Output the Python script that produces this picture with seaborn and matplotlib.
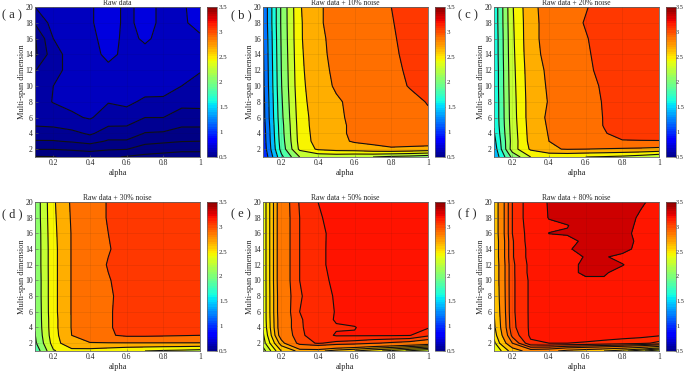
import matplotlib
matplotlib.use('Agg')
import matplotlib.pyplot as plt
import seaborn as sns
from matplotlib.cm import ScalarMappable
from matplotlib.colors import Normalize, ListedColormap

# alpha / dimension grid
alpha = [0.1, 0.2, 0.3, 0.4, 0.5, 0.6, 0.7, 0.8, 0.9, 1.0]
dims = [1, 2, 3, 4, 5, 6, 8, 10, 12, 14, 16, 18, 20]
dims_f = [1, 2, 3, 4, 6, 8, 10, 11, 12, 13, 14, 15, 16, 17, 18, 20]

titles = ['Raw data', 'Raw data + 10% noise', 'Raw data + 20% noise',
          'Raw data + 30% noise', 'Raw data + 50% noise', 'Raw data + 80% noise']
tags = ['( a )', '( b )', '( c )', '( d )', '( e )', '( f )']

# values, one row per dimension
raw = [
    [.495, .498, .51, .51, .51, .495, .49, .485, .48, .48],
    [.552, .552, .557, .567, .555, .552, .52, .515, .51, .51],
    [.597, .597, .605, .616, .595, .595, .57, .56, .552, .55],
    [.625, .63, .635, .6585, .625, .625, .598, .595, .58, .58],
    [.652, .655, .67, .675, .653, .652, .62, .62, .605, .605],
    [.66, .665, .69, .706, .67, .675, .65, .65, .625, .63],
    [.67, .703, .715, .72, .703, .712, .69, .69, .667, .665],
    [.66, .70, .72, .725, .72, .725, .723, .72, .70, .69],
    [.648, .68, .72, .73, .74, .735, .73, .73, .715, .702],
    [.59, .68, .72, .735, .76, .74, .74, .735, .725, .72],
    [.595, .70, .725, .74, .765, .74, .755, .74, .73, .745],
    [.655, .72, .73, .745, .77, .74, .765, .74, .745, .76],
    [.70, .725, .73, .745, .77, .74, .765, .74, .745, .765],
]
noise10 = [
    [.90, 1.65, 2.10, 2.14, 2.15, 2.12, 2.10, 2.05, 2.02, 1.97],
    [.95, 1.77, 2.34, 2.53, 2.58, 2.60, 2.65, 2.68, 2.66, 2.63],
    [.97, 1.80, 2.37, 2.58, 2.65, 2.72, 2.74, 2.76, 2.78, 2.80],
    [.98, 1.82, 2.38, 2.59, 2.65, 2.74, 2.76, 2.78, 2.80, 2.83],
    [1.00, 1.83, 2.39, 2.60, 2.65, 2.74, 2.77, 2.80, 2.82, 2.85],
    [1.02, 1.85, 2.40, 2.60, 2.65, 2.76, 2.79, 2.81, 2.83, 2.87],
    [1.03, 1.87, 2.42, 2.62, 2.68, 2.74, 2.78, 2.81, 2.85, 2.91],
    [1.05, 1.89, 2.44, 2.63, 2.72, 2.76, 2.80, 2.84, 2.91, 2.96],
    [1.06, 1.90, 2.45, 2.65, 2.73, 2.77, 2.81, 2.85, 2.93, 2.98],
    [1.07, 1.91, 2.46, 2.66, 2.74, 2.78, 2.83, 2.87, 2.94, 3.00],
    [1.08, 1.92, 2.47, 2.67, 2.74, 2.79, 2.84, 2.88, 2.95, 3.01],
    [1.10, 1.93, 2.47, 2.68, 2.75, 2.80, 2.85, 2.89, 2.96, 3.02],
    [1.10, 1.93, 2.48, 2.68, 2.75, 2.80, 2.85, 2.90, 2.97, 3.02],
]
noise20 = [
    [1.33, 1.95, 2.30, 2.33, 2.33, 2.30, 2.28, 2.25, 2.20, 2.12],
    [1.37, 2.20, 2.53, 2.68, 2.71, 2.70, 2.69, 2.68, 2.67, 2.65],
    [1.43, 2.18, 2.57, 2.70, 2.77, 2.82, 2.88, 2.89, 2.89, 2.89],
    [1.48, 2.19, 2.58, 2.71, 2.78, 2.83, 2.89, 2.95, 2.98, 3.00],
    [1.51, 2.20, 2.59, 2.72, 2.78, 2.83, 2.905, 2.96, 2.98, 3.00],
    [1.52, 2.21, 2.60, 2.73, 2.79, 2.84, 2.905, 2.96, 2.99, 3.01],
    [1.52, 2.22, 2.60, 2.71, 2.79, 2.84, 2.91, 2.96, 2.99, 3.01],
    [1.53, 2.23, 2.61, 2.72, 2.80, 2.85, 2.92, 2.97, 3.00, 3.02],
    [1.53, 2.24, 2.62, 2.73, 2.81, 2.87, 2.94, 2.98, 3.00, 3.02],
    [1.54, 2.25, 2.64, 2.75, 2.82, 2.88, 2.95, 2.99, 3.01, 3.03],
    [1.54, 2.26, 2.65, 2.76, 2.83, 2.89, 2.96, 2.99, 3.01, 3.03],
    [1.55, 2.27, 2.65, 2.76, 2.84, 2.91, 2.96, 2.99, 3.01, 3.03],
    [1.55, 2.28, 2.66, 2.76, 2.83, 2.89, 2.96, 2.99, 3.01, 3.03],
]
noise30 = [
    [1.75, 2.28, 2.42, 2.42, 2.38, 2.33, 2.30, 2.27, 2.25, 2.22],
    [1.86, 2.38, 2.68, 2.69, 2.69, 2.69, 2.69, 2.69, 2.69, 2.69],
    [1.89, 2.42, 2.70, 2.80, 2.88, 2.93, 2.93, 2.92, 2.91, 2.90],
    [1.91, 2.43, 2.71, 2.80, 2.885, 2.95, 2.99, 3.00, 3.02, 3.03],
    [1.92, 2.43, 2.71, 2.80, 2.885, 2.95, 2.99, 3.01, 3.03, 3.04],
    [1.92, 2.44, 2.71, 2.80, 2.885, 2.95, 2.99, 3.01, 3.03, 3.04],
    [1.93, 2.44, 2.71, 2.80, 2.88, 2.95, 2.99, 3.01, 3.03, 3.04],
    [1.93, 2.44, 2.71, 2.81, 2.89, 2.96, 3.00, 3.02, 3.04, 3.05],
    [1.94, 2.44, 2.71, 2.82, 2.91, 2.97, 3.00, 3.02, 3.04, 3.05],
    [1.94, 2.44, 2.71, 2.81, 2.89, 2.96, 3.00, 3.02, 3.04, 3.05],
    [1.94, 2.45, 2.71, 2.82, 2.90, 2.96, 3.00, 3.02, 3.04, 3.05],
    [1.95, 2.46, 2.72, 2.83, 2.91, 2.97, 3.00, 3.02, 3.04, 3.05],
    [1.95, 2.47, 2.73, 2.83, 2.91, 2.97, 3.00, 3.02, 3.04, 3.05],
]
noise50 = [
    [2.20, 2.55, 2.68, 2.68, 2.60, 2.55, 2.48, 2.42, 2.33, 2.25],
    [2.30, 2.70, 3.00, 3.06, 3.02, 3.00, 2.96, 2.93, 2.90, 2.85],
    [2.33, 2.82, 3.03, 3.10, 3.16, 3.16, 3.16, 3.16, 3.155, 3.07],
    [2.36, 2.84, 3.04, 3.09, 3.14, 3.145, 3.20, 3.20, 3.21, 3.16],
    [2.37, 2.84, 3.04, 3.10, 3.16, 3.18, 3.20, 3.20, 3.21, 3.21],
    [2.37, 2.85, 3.05, 3.11, 3.155, 3.18, 3.20, 3.20, 3.21, 3.21],
    [2.37, 2.85, 3.04, 3.11, 3.16, 3.19, 3.20, 3.20, 3.21, 3.21],
    [2.37, 2.86, 3.05, 3.12, 3.17, 3.19, 3.20, 3.20, 3.21, 3.21],
    [2.37, 2.86, 3.05, 3.135, 3.17, 3.19, 3.20, 3.20, 3.21, 3.21],
    [2.37, 2.86, 3.05, 3.135, 3.17, 3.19, 3.20, 3.20, 3.21, 3.21],
    [2.37, 2.86, 3.05, 3.13, 3.175, 3.19, 3.20, 3.20, 3.21, 3.21],
    [2.37, 2.86, 3.05, 3.14, 3.18, 3.19, 3.20, 3.20, 3.21, 3.21],
    [2.37, 2.86, 3.06, 3.15, 3.18, 3.19, 3.20, 3.20, 3.21, 3.21],
]
noise80 = [
    [2.35, 2.60, 2.78, 2.75, 2.65, 2.60, 2.55, 2.48, 2.38, 2.25],
    [2.42, 2.85, 3.13, 3.15, 3.15, 3.14, 3.12, 3.10, 3.08, 3.02],
    [2.48, 2.98, 3.17, 3.20, 3.20, 3.20, 3.20, 3.19, 3.18, 3.16],
    [2.52, 3.02, 3.17, 3.21, 3.21, 3.21, 3.21, 3.21, 3.21, 3.20],
    [2.55, 3.03, 3.17, 3.22, 3.22, 3.22, 3.22, 3.22, 3.21, 3.21],
    [2.57, 3.03, 3.17, 3.22, 3.23, 3.23, 3.23, 3.23, 3.22, 3.21],
    [2.58, 3.03, 3.17, 3.23, 3.26, 3.28, 3.29, 3.25, 3.22, 3.21],
    [2.58, 3.03, 3.18, 3.24, 3.27, 3.32, 3.31, 3.27, 3.23, 3.22],
    [2.58, 3.03, 3.18, 3.24, 3.27, 3.32, 3.33, 3.305, 3.25, 3.22],
    [2.59, 3.04, 3.19, 3.25, 3.27, 3.305, 3.31, 3.27, 3.25, 3.22],
    [2.59, 3.04, 3.19, 3.26, 3.29, 3.33, 3.36, 3.34, 3.26, 3.23],
    [2.59, 3.04, 3.20, 3.26, 3.27, 3.32, 3.37, 3.35, 3.27, 3.23],
    [2.60, 3.05, 3.20, 3.302, 3.31, 3.34, 3.37, 3.34, 3.26, 3.23],
    [2.60, 3.05, 3.21, 3.28, 3.295, 3.36, 3.38, 3.35, 3.27, 3.24],
    [2.60, 3.05, 3.22, 3.305, 3.35, 3.38, 3.39, 3.36, 3.28, 3.24],
    [2.60, 3.05, 3.22, 3.31, 3.36, 3.38, 3.39, 3.38, 3.32, 3.25],
]

levels_a = [.4, .5, .55, .6, .65, .7, .75, .8]
levels_mid = [.7, .9, 1.1, 1.3, 1.5, 1.7, 1.9, 2.1, 2.3, 2.5, 2.7, 2.9, 3.1]
levels_e = [2.05, 2.15, 2.25, 2.35, 2.45, 2.55, 2.65, 2.75, 2.95, 3.05, 3.15, 3.22]
levels_f = [2.05, 2.15, 2.25, 2.35, 2.45, 2.55, 2.7, 2.85, 2.95, 3.05, 3.15, 3.3, 3.45]

# colour value of each band, one less than the levels
bands_a = [.45, .5, .52, .55, .6, .67, .75]
bands_mid = [.8, 1.0, 1.22, 1.42, 1.64, 1.84, 2.06, 2.26, 2.45, 2.67, 2.87, 3.05]
bands_e = [2.1, 2.2, 2.3, 2.4, 2.5, 2.6, 2.7, 2.85, 3.0, 3.1, 3.17]
bands_f = [2.1, 2.2, 2.3, 2.4, 2.5, 2.62, 2.8, 2.9, 3.0, 3.1, 3.16, 3.29]

panels = [(raw, dims, levels_a, bands_a), (noise10, dims, levels_mid, bands_mid),
          (noise20, dims, levels_mid, bands_mid), (noise30, dims, levels_mid, bands_mid),
          (noise50, dims, levels_e, bands_e), (noise80, dims_f, levels_f, bands_f)]

sns.set_theme(style='ticks')
plt.rcParams['font.family'] = ['Liberation Serif', 'Noto Sans CJK SC']
jet = ListedColormap(sns.mpl_palette('jet', 256))
jet_bar = ListedColormap(sns.mpl_palette('jet', 64))
shade = Normalize(0.5, 3.5)

W, H = 685, 371
fig = plt.figure(figsize=(W / 100, H / 100), dpi=100)


def box(x0, y0, x1, y1):
    # pixel box (y from the top) to figure fractions
    return [x0 / W, 1 - y1 / H, (x1 - x0) / W, (y1 - y0) / H]


lefts = [35, 263, 494]
rows = [(7, 157), (202, 351)]
tag_x = [2, 231, 458]
tag_y = [15, 214]
gray = '#666666'

for i, (z, dd, lev, bands) in enumerate(panels):
    col, row = i % 3, i // 3
    x0 = lefts[col]
    y0, y1 = rows[row]
    ax = fig.add_axes(box(x0, y0, x0 + 165, y1))
    ax.contourf(alpha, dd, z, levels=lev, colors=[jet(shade(b)) for b in bands])
    ax.contour(alpha, dd, z, levels=lev, colors='#111111', linewidths=0.8)
    ax.set_xlim(0.1, 1)
    ax.set_ylim(1, 20)
    ax.set_xticks([0.2, 0.4, 0.6, 0.8, 1], ['0.2', '0.4', '0.6', '0.8', '1'])
    ax.set_yticks(range(2, 21, 2))
    ax.tick_params(direction='in', length=1.8, width=0.4, labelsize=5.5, pad=1.5, color=gray)
    ax.grid(True, color='k', alpha=0.1, linewidth=0.5)
    ax.set_axisbelow(False)
    for s in ax.spines.values():
        s.set_color(gray)
        s.set_linewidth(0.6)
    ax.set_xlabel('alpha', fontsize=6, labelpad=1.5)
    ax.set_ylabel('Multi-span dimension', fontsize=6, labelpad=-0.5)
    ax.set_title(titles[i], fontsize=5.5, pad=1.5)

    # last column sits against the figure edge, so its labels are a bit tighter
    last = col == 2
    cax = fig.add_axes(box(x0 + 171.7, y0, x0 + (181.5 if last else 182), y1))
    sm = ScalarMappable(norm=Normalize(0.5, 3.5), cmap=jet_bar)
    cb = fig.colorbar(sm, cax=cax)
    cb.set_ticks([0.5, 1, 1.5, 2, 2.5, 3, 3.5], labels=['0.5', '1', '1.5', '2', '2.5', '3', '3.5'])
    cb.ax.tick_params(direction='in', length=1.5, width=0.4, labelsize=4.5 if last else 5,
                      pad=0.4 if last else 1.5, color=gray)
    cb.outline.set_edgecolor(gray)
    cb.outline.set_linewidth(0.5)

    fig.text(tag_x[col] / W, 1 - tag_y[row] / H, tags[i], fontsize=9, va='center', ha='left')

fig.savefig('out.png', dpi=100)
